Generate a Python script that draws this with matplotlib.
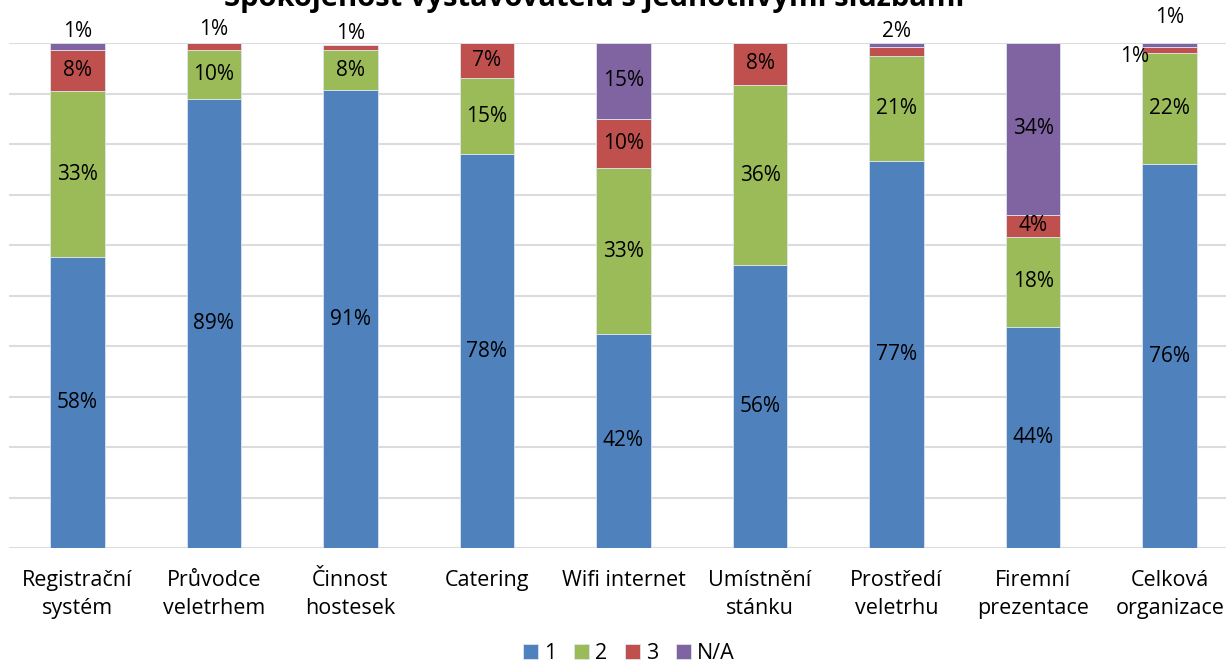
import numpy as np
import matplotlib
matplotlib.use("Agg")
import matplotlib.pyplot as plt

plt.rcParams['font.family'] = ['Open Sans', 'DejaVu Sans']

categories = ["Registrační\nsystém", "Průvodce\nveletrhem", "Činnost\nhostesek", "Catering",
              "Wifi internet", "Umístnění\nstánku", "Prostředí\nveletrhu", "Firemní\nprezentace",
              "Celková\norganizace"]
s1 = [57.6, 88.9, 90.6, 78.0, 42.4, 56.0, 76.7, 43.8, 76.0]
s2 = [32.9, 9.7, 8.0, 15.0, 32.8, 35.7, 20.7, 17.8, 22.0]
s3 = [8.1, 1.4, 1.0, 7.0, 9.8, 8.3, 1.8, 4.4, 1.2]
sNA = [1.4, 0.0, 0.0, 0.0, 15.0, 0.0, 0.8, 34.0, 0.8]
series_names = ["1", "2", "3", "N/A"]
colors = ["#4F81BD", "#9BBB59", "#C0504D", "#8064A2"]

# tiny segments whose label Excel moved outside the bar: (bar, series) -> offset in points
outside = {(0, 3): (0, 1), (1, 2): (0, 2), (2, 2): (0, -1), (6, 2): (0, 1),
           (8, 2): (-25, -17), (8, 3): (0, 11)}
hidden = {(6, 3)}

fig = plt.figure(figsize=(12.26, 6.69), dpi=100)
ax = fig.add_axes([9 / 1226, 121 / 669, 1229 / 1226, 505 / 669])

x = np.arange(len(categories))
data = [s1, s2, s3, sNA]
bottom = np.zeros(len(categories))
fs = 15
for si, (vals, col, name) in enumerate(zip(data, colors, series_names)):
    vals = np.array(vals)
    ax.bar(x, vals, 0.40, bottom=bottom, color=col, label=name,
           edgecolor="#dde4ee", linewidth=0.6, zorder=3)
    for bi, v in enumerate(vals):
        if v <= 0 or (bi, si) in hidden:
            continue
        txt = f"{round(v):.0f}%"
        if (bi, si) in outside:
            dx, dy = outside[(bi, si)]
            ax.annotate(txt, (x[bi], 100), xytext=(dx, dy), textcoords="offset points",
                        ha="center", va="bottom", fontsize=fs, color="black")
        else:
            ax.text(x[bi], bottom[bi] + v / 2, txt, ha="center", va="center",
                    fontsize=fs, color="black", zorder=4)
    bottom += vals

ax.set_xlim(-0.5, len(categories) - 0.5)
ax.set_ylim(0, 100)
ax.set_yticks(np.arange(0, 101, 10))
ax.set_yticklabels([])
ax.yaxis.grid(True, color="#DCDCDC", linewidth=1.5, zorder=0)
ax.set_axisbelow(True)
ax.tick_params(axis="both", length=0)
ax.tick_params(axis="x", pad=16)
ax.set_xticks(x)
ax.set_xticklabels(categories, fontsize=15.5, linespacing=1.4)
for s in ax.spines.values():
    s.set_visible(False)

fig.text(0.485, 1 - 6 / 669, "Spokojenost vystavovatelů s jednotlivými službami",
         ha="center", va="baseline", fontsize=21, fontweight="bold")

fig.legend(loc="lower center", bbox_to_anchor=(0.513, -0.022), ncol=4, frameon=False,
           fontsize=15.5, handlelength=0.7, handleheight=0.7, handletextpad=0.3,
           columnspacing=0.8)

fig.savefig("out.png", dpi=100)
